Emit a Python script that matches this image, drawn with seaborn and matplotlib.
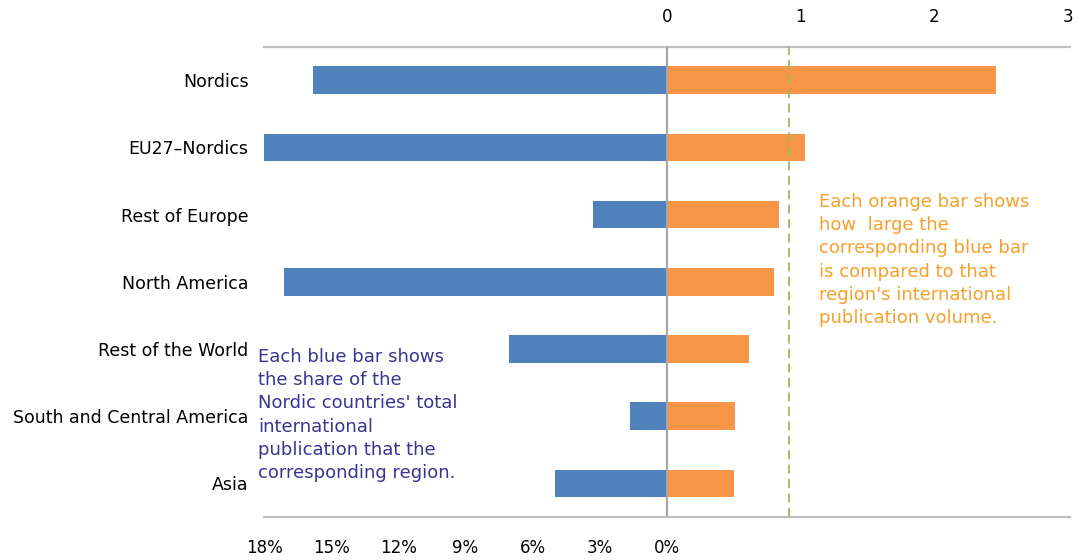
import matplotlib
matplotlib.use("Agg")
import matplotlib.pyplot as plt
import seaborn as sns
import pandas as pd

regions = ["Nordics", "EU27\u2013Nordics", "Rest of Europe", "North America",
           "Rest of the World", "South and Central America", "Asia"]
share_pct = [15.8, 18.0, 3.3, 17.1, 7.05, 1.65, 5.0]      # blue bars (% share)
ratio = [2.46, 1.03, 0.84, 0.80, 0.61, 0.51, 0.50]         # orange bars
pct_ticks = [18, 15, 12, 9, 6, 3, 0]
ratio_ticks = [0, 1, 2, 3]
ref_line = 0.91

BLUE = "#4F81BD"
ORANGE = "#F79646"

sns.set_theme(style="white")
plt.rcParams["font.family"] = ["DejaVu Sans"]

df = pd.DataFrame({"region": regions, "neg_share": [-v for v in share_pct], "ratio": ratio})

fig = plt.figure(figsize=(10.77, 5.6), dpi=100)
ax = fig.add_axes([264 / 1077, 43 / 560, (1070 - 264) / 1077, (517 - 46.5) / 560])

sns.barplot(data=df, x="neg_share", y="region", ax=ax, color=BLUE, saturation=1,
            width=0.41, orient="h", linewidth=0, edgecolor="none")
ax.set_xlim(-18, 18)
ax.set_xticks([-t for t in pct_ticks])
ax.set_xticklabels([f"{t}%" for t in pct_ticks])
ax.set_xlabel("")
ax.set_ylabel("")

ax2 = ax.twiny()
sns.barplot(data=df, x="ratio", y="region", ax=ax2, color=ORANGE, saturation=1,
            width=0.41, orient="h", linewidth=0, edgecolor="none")
ax2.set_xlim(-3.015, 3.015)
ax2.set_xticks(ratio_ticks)
ax2.set_xticklabels([str(t) for t in ratio_ticks])
ax2.set_xlabel("")
ax2.set_ylabel("")
ax2.set_ylim(6.5, -0.5)
ax.set_ylim(6.5, -0.5)

ax2.axvline(0, color="#A6A6A6", lw=1.5, zorder=5)
ax2.axvline(ref_line, color="#9BBB59", lw=1.3, ls=(0, (5, 3)), zorder=5)

for s in ["left", "right"]:
    ax.spines[s].set_visible(False)
    ax2.spines[s].set_visible(False)
ax2.spines["top"].set_visible(False)
ax2.spines["bottom"].set_visible(False)
for s in ["top", "bottom"]:
    ax.spines[s].set_visible(True)
    ax.spines[s].set_color("#BFBFBF")
    ax.spines[s].set_linewidth(1.6)

ax.tick_params(axis="x", length=0, pad=16, labelsize=12, colors="#000000")
ax.tick_params(axis="y", length=0, pad=11, labelsize=12.5, colors="#000000")
ax2.tick_params(axis="x", length=0, pad=15, labelsize=12, colors="#000000")

fig.text(258 / 1077, 1 - 348 / 560,
         "Each blue bar shows\nthe share of the\nNordic countries' total\ninternational\n"
         "publication that the\ncorresponding region.",
         color="#3B3391", fontsize=13, va="top", ha="left", linespacing=1.37)
fig.text(819 / 1077, 1 - 193 / 560,
         "Each orange bar shows\nhow  large the\ncorresponding blue bar\nis compared to that\n"
         "region's international\npublication volume.",
         color="#F5A02A", fontsize=13, va="top", ha="left", linespacing=1.37)

fig.savefig("out.png", dpi=100)
